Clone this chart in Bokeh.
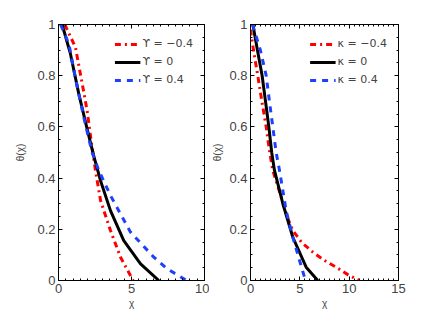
from bokeh.plotting import figure
from bokeh.layouts import row
from bokeh.models import (LinearAxis, SingleIntervalTicker, Range1d, Legend, LegendItem,
                          CustomLabelingPolicy)
from bokeh.embed import file_html
from bokeh.resources import INLINE

# Left panel: Upsilon variation
left_m04_x = [0.43, 1.16, 1.62, 1.96, 2.25, 2.53, 2.88, 3.56, 4.25, 5.11]
left_m04_y = [1.0, 0.911, 0.77, 0.664, 0.54, 0.43, 0.3125, 0.195, 0.091, 0.0]
left_0_x = [0.25, 0.82, 1.39, 1.96, 2.4, 2.88, 3.56, 4.47, 5.62, 6.87]
left_0_y = [1.0, 0.885, 0.729, 0.592, 0.49, 0.39, 0.273, 0.156, 0.065, 0.0]
left_p04_x = [0.14, 0.71, 1.16, 1.73, 2.3, 2.76, 3.56, 4.93, 6.53, 7.44, 8.77]
left_p04_y = [1.0, 0.925, 0.79, 0.638, 0.5, 0.43, 0.332, 0.189, 0.091, 0.046, 0.0]

# Right panel: kappa variation
right_m04_x = [0.0, 0.3, 0.74, 1.15, 1.59, 1.95, 2.26, 3.28, 3.75, 4.29, 5.2, 6.32, 7.5, 8.68, 9.9, 11.05]
right_m04_y = [0.98, 0.9, 0.8, 0.7, 0.6, 0.5, 0.43, 0.306, 0.245, 0.195, 0.148, 0.111, 0.078, 0.052, 0.022, 0.0]
right_0_x = [0.24, 0.7, 1.18, 1.52, 1.86, 2.15, 2.43, 3.28, 4.29, 5.64, 6.82]
right_0_y = [1.0, 0.9, 0.8, 0.7, 0.6, 0.5, 0.43, 0.30, 0.169, 0.052, 0.0]
right_p04_x = [0.2, 1.0, 1.59, 1.92, 2.26, 2.6, 2.94, 3.61, 4.29, 4.97, 5.57]
right_p04_y = [1.0, 0.9, 0.8, 0.7, 0.6, 0.5, 0.43, 0.273, 0.169, 0.078, 0.0]

left_labels = ["ϒ = −0.4", "ϒ = 0", "ϒ = 0.4"]
right_labels = ["κ = −0.4", "κ = 0", "κ = 0.4"]

FONT = "Liberation Sans"
LEG_FONT = "DejaVu Sans"
RED = "#ff0000"
BLUE = "#1f3fff"


def style_axis(ax, ticker, show_labels=True):
    ax.ticker = ticker
    ax.major_tick_in = 4
    ax.major_tick_out = 0
    ax.minor_tick_in = 2
    ax.minor_tick_out = 0
    ax.axis_line_color = "black"
    ax.major_tick_line_color = "black"
    ax.minor_tick_line_color = "black"
    ax.major_label_text_font = FONT
    ax.major_label_text_font_size = "13px"
    ax.major_label_standoff = 3
    ax.axis_label_text_font = FONT
    ax.axis_label_text_font_size = "10px"
    ax.axis_label_text_font_style = "normal"
    if not show_labels:
        ax.major_label_policy = CustomLabelingPolicy(code="")
        ax.major_label_text_font_size = "1px"
        ax.major_label_standoff = 0


def make_panel(xmax, series, labels, bl, br, fw, ylab_standoff):
    p = figure(frame_width=fw, frame_height=256, output_backend="svg",
               toolbar_location=None, x_range=Range1d(0, xmax), y_range=Range1d(0, 1),
               min_border_left=bl, min_border_right=br, min_border_top=24, min_border_bottom=30)
    p.grid.visible = False
    p.outline_line_color = "black"
    p.outline_line_width = 1
    p.background_fill_color = "white"
    p.border_fill_color = "white"
    xt = lambda: SingleIntervalTicker(interval=5, num_minor_ticks=10)
    yt = lambda: SingleIntervalTicker(interval=0.2, num_minor_ticks=4)
    style_axis(p.xaxis[0], xt())
    style_axis(p.yaxis[0], yt())
    p.xaxis[0].axis_label = "χ"
    p.yaxis[0].axis_label = "θ(χ)"
    p.xaxis[0].axis_label_standoff = 2
    p.yaxis[0].axis_label_standoff = ylab_standoff
    top = LinearAxis()
    style_axis(top, xt(), show_labels=False)
    right = LinearAxis()
    style_axis(right, yt(), show_labels=False)
    p.add_layout(top, "above")
    p.add_layout(right, "right")

    styles = [(RED, "dashdot"), ("black", "solid"), (BLUE, "dashed")]
    items = []
    for (xs, ys), lab, (c, d) in zip(series, labels, styles):
        r = p.line(xs, ys, line_color=c, line_dash=d, line_width=3)
        items.append(LegendItem(label=lab, renderers=[r]))
    leg = Legend(items=items, location="top_right")
    leg.background_fill_alpha = 0
    leg.border_line_alpha = 0
    leg.label_text_font = LEG_FONT
    leg.label_text_font_size = "11px"
    leg.glyph_width = 26
    leg.glyph_height = 14
    leg.spacing = 1
    leg.label_standoff = 2
    leg.margin = 8
    leg.padding = 3
    leg.label_height = 17
    p.add_layout(leg)
    return p


p1 = make_panel(10, [(left_m04_x, left_m04_y), (left_0_x, left_0_y), (left_p04_x, left_p04_y)],
                left_labels, 58, 5, 146, 8)
p2 = make_panel(15, [(right_m04_x, right_m04_y), (right_0_x, right_0_y), (right_p04_x, right_p04_y)],
                right_labels, 39, 24, 148, 3)

layout = row(p1, p2, spacing=0)
open("out.html", "w").write(file_html(layout, INLINE))
